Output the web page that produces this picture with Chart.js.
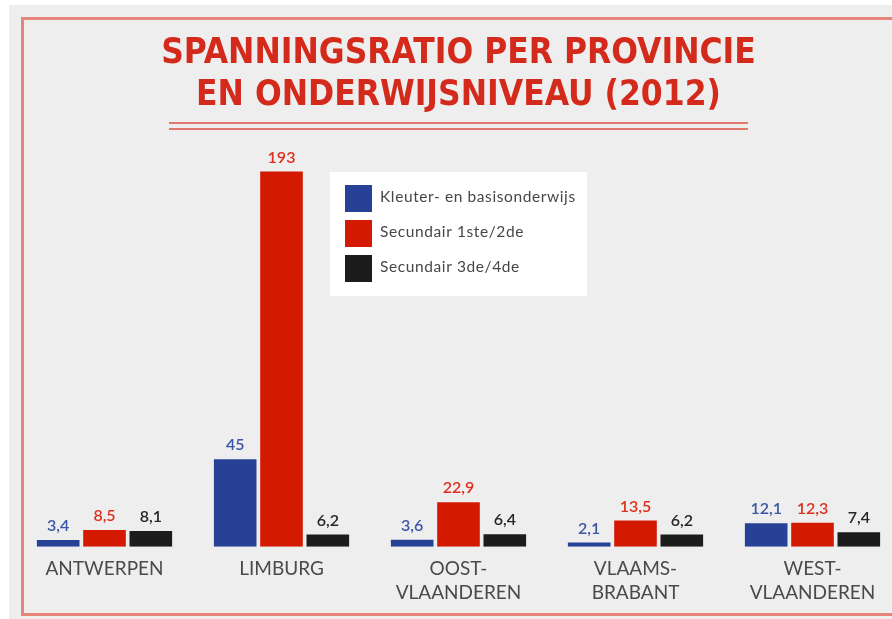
<!DOCTYPE html>
<html>
<head>
<meta charset="utf-8">
<script src="https://cdn.jsdelivr.net/npm/chart.js@4.4.1/dist/chart.umd.min.js"></script>
<style>
  html, body { margin: 0; padding: 0; background: #ffffff; overflow: hidden; width: 892px; height: 619px; }
  #panel { position: absolute; left: 9px; top: 5px; width: 900px; height: 620px; background: #eeeeee; }
  #frame { position: absolute; left: 21px; top: 17px; width: 900px; height: 593px; border: 3px solid #e5847a; }
  .rule { position: absolute; left: 169px; width: 579px; height: 2px; background: #e2776b; }
  #chartBox { position: absolute; left: 0; top: 0; }
</style>
</head>
<body>
<div id="panel"></div>
<div id="frame"></div>
<div class="rule" style="top:122px"></div>
<div class="rule" style="top:128px"></div>
<canvas id="chartBox" width="905" height="619"></canvas>
<script>
const provinces = [['ANTWERPEN'], ['LIMBURG'], ['OOST-', 'VLAANDEREN'], ['VLAAMS-', 'BRABANT'], ['WEST-', 'VLAANDEREN']];
const seriesNames = ['Kleuter- en basisonderwijs', 'Secundair 1ste/2de', 'Secundair 3de/4de'];
const kleuterBasis = [3.4, 45, 3.6, 2.1, 12.1];
const secundair12 = [8.5, 193, 22.9, 13.5, 12.3];
const secundair34 = [8.1, 6.2, 6.4, 6.2, 7.4];
const titleLines = ['SPANNINGSRATIO PER PROVINCIE', 'EN ONDERWIJSNIVEAU (2012)'];

const barColors = ['#264196', '#d31a00', '#1c1c1c'];
const labelColors = ['#3b56a6', '#df2f1c', '#262626'];

// value labels above every bar, Belgian comma decimals
const valueLabels = {
    id: 'valueLabels',
    afterDatasetsDraw(chart) {
        const ctx = chart.ctx;
        ctx.save();
        ctx.font = '600 16px Lato';
        ctx.textAlign = 'center';
        ctx.textBaseline = 'middle';
        chart.data.datasets.forEach((ds, i) => {
            chart.getDatasetMeta(i).data.forEach((bar, j) => {
                ctx.fillStyle = labelColors[i];
                ctx.fillText(String(ds.data[j]).replace('.', ','), bar.x, bar.y - 14);
            });
        });
        ctx.restore();
    }
};

// white legend box floating in the chart area
const boxLegend = {
    id: 'boxLegend',
    afterDraw(chart) {
        const ctx = chart.ctx;
        const left = 330, top = 172;
        ctx.save();
        ctx.fillStyle = '#ffffff';
        ctx.fillRect(left, top, 257, 124);
        ctx.font = '15.5px Lato';
        ctx.letterSpacing = '0.6px';
        ctx.textBaseline = 'middle';
        chart.data.datasets.forEach((ds, i) => {
            const y = top + 13 + i * 35;
            ctx.fillStyle = ds.backgroundColor;
            ctx.fillRect(left + 15, y, 27, 27);
            ctx.fillStyle = '#474747';
            ctx.fillText(ds.label, left + 50, y + 12);
        });
        ctx.restore();
    }
};

const ctx = document.getElementById('chartBox').getContext('2d');

new Chart(ctx, {
    type: 'bar',
    data: {
        labels: provinces,
        datasets: [
            { label: seriesNames[0], data: kleuterBasis, backgroundColor: barColors[0] },
            { label: seriesNames[1], data: secundair12, backgroundColor: barColors[1] },
            { label: seriesNames[2], data: secundair34, backgroundColor: barColors[2] }
        ]
    },
    options: {
        responsive: false,
        animation: false,
        devicePixelRatio: 1,
        layout: { padding: { left: 16, right: 4, top: 0, bottom: 12 } },
        datasets: {
            bar: { categoryPercentage: 0.785, barPercentage: 0.92 }
        },
        plugins: {
            legend: { display: false },
            tooltip: { enabled: false },
            title: {
                display: true,
                text: titleLines,
                color: '#d42a1c',
                font: { family: "'DejaVu Sans Condensed', 'DejaVu Sans', sans-serif", size: 35, weight: 'bold', lineHeight: 1.2 },
                padding: { top: 33, bottom: 41 }
            }
        },
        scales: {
            x: {
                grid: { display: false },
                border: { display: false },
                ticks: {
                    color: '#4a4a4a',
                    font: { family: 'Lato', size: 19, lineHeight: 1.22 },
                    padding: 3,
                    maxRotation: 0
                }
            },
            y: {
                display: false,
                min: 0,
                max: 200
            }
        }
    },
    plugins: [valueLabels, boxLegend]
});
</script>
</body>
</html>
